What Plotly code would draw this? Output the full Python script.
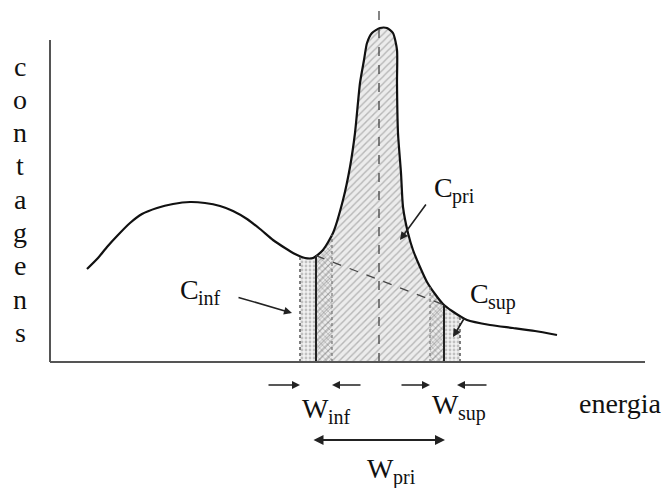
import numpy as np
import plotly.graph_objects as go

# ---- data (x = energy channel, y = counts) ----
energia = [37, 48, 57, 68, 80, 92, 107, 123, 140, 155, 170, 183, 197, 210, 223, 235, 245,
           255, 263, 273, 283, 293, 300, 305, 310, 314, 317, 322, 330, 337, 343, 347, 347,
           348, 351, 353, 358, 363, 370, 377, 385, 393, 402, 417, 440, 463, 485, 507]
contagens = [93, 104, 115, 127, 139, 148, 154, 158, 160, 159, 156, 151, 143, 133, 122, 114, 108,
             104, 104, 112, 129, 162, 195, 229, 279, 302, 319, 329, 334, 334, 329, 312, 279,
             229, 189, 155, 129, 112, 95, 80, 68, 58, 51, 42, 37, 34, 31, 27]

# window limits (energy channels)
inf_lo, inf_hi = 250, 266        # C_inf window (dotted edge, solid edge)
sup_lo, sup_hi = 394, 410        # C_sup window (solid edge, dotted edge)
dense_l, dense_r = 282, 380      # inner dense bands
centroide = 329                  # peak centre
centro_top = 352

xs = np.array(energia, dtype=float)
ys = np.array(contagens, dtype=float)
fine_x = np.linspace(xs.min(), xs.max(), 800)

def seg(a, b):
    m = (fine_x >= a) & (fine_x <= b)
    sx = np.concatenate([[a], fine_x[m], [b]])
    sy = np.interp(sx, xs, ys)
    return sx, sy

fig = go.Figure()

def band(a, b, shape, fg, bg, size, sol):
    sx, sy = seg(a, b)
    fig.add_trace(go.Scatter(x=sx, y=sy, mode="lines", line=dict(width=0, color="rgba(0,0,0,0)"),
                             fill="tozeroy", fillcolor=bg,
                             fillpattern=dict(shape=shape, fgcolor=fg, bgcolor=bg,
                                              size=size, solidity=sol),
                             hoverinfo="skip"))

# shaded regions
band(inf_lo, inf_hi, ".", "#8f8f8f", "#f1f1f1", 4, 0.38)
band(sup_lo, sup_hi, ".", "#8f8f8f", "#f1f1f1", 4, 0.38)
band(inf_hi, sup_lo, "/", "#7f7f7f", "#ececec", 5, 0.28)
band(inf_hi, dense_l, "x", "#6f6f6f", "rgba(0,0,0,0)", 4, 0.32)
band(dense_r, sup_lo, "x", "#6f6f6f", "rgba(0,0,0,0)", 4, 0.32)

# spectrum curve
fig.add_trace(go.Scatter(x=energia, y=contagens, mode="lines",
                         line=dict(color="#111111", width=2.2, shape="spline", smoothing=0.6),
                         hoverinfo="skip"))

def vline(x, dash, width, color, top=None):
    yt = float(np.interp(x, xs, ys)) if top is None else top
    fig.add_trace(go.Scatter(x=[x, x], y=[0, yt], mode="lines",
                             line=dict(color=color, width=width, dash=dash), hoverinfo="skip"))

vline(inf_lo, "dot", 1.5, "#555555")
vline(sup_hi, "dot", 1.5, "#555555")
vline(dense_l, "dot", 1.2, "#777777")
vline(dense_r, "dot", 1.2, "#777777")
vline(inf_hi, "solid", 2, "#222222")
vline(sup_lo, "solid", 2, "#222222")
vline(centroide, "dash", 1.3, "#444444", top=centro_top)

# background baseline
fig.add_trace(go.Scatter(x=[inf_hi, sup_lo],
                         y=[float(np.interp(inf_hi, xs, ys)), float(np.interp(sup_lo, xs, ys))],
                         mode="lines", line=dict(color="#444444", width=1.3, dash="dash"),
                         hoverinfo="skip"))

# axes
x_end, y_top = 595, 322
fig.add_trace(go.Scatter(x=[0, x_end], y=[0, 0], mode="lines",
                         line=dict(color="#555555", width=2), hoverinfo="skip"))
fig.add_trace(go.Scatter(x=[0, 0], y=[0, y_top], mode="lines",
                         line=dict(color="#555555", width=2), hoverinfo="skip"))

SERIF = "Liberation Serif"
FONT = dict(family=SERIF, size=28, color="#111111")
SUBFONT = dict(family=SERIF, size=20, color="#111111")
ann = []

def text(t, x, y, font):
    ann.append(dict(x=x, y=y, xref="x", yref="y", text=t, showarrow=False,
                    xanchor="left", yanchor="middle", font=font))

def label(main, s, x, y):
    w = 18.7 if main == "C" else 26.4
    text(main, x, y, FONT)
    text(s, x + w - 0.5, y - 9, SUBFONT)

def arrow(x, y, ax, ay, width=1.6, side="end"):
    ann.append(dict(x=x, y=y, ax=ax, ay=ay, xref="x", yref="y", axref="x", ayref="y",
                    text="", showarrow=True, arrowhead=2, arrowsize=1, arrowwidth=width,
                    arrowcolor="#222222", arrowside=side))

label("C", "pri", 382, 175)
label("C", "inf", 128, 73)
label("C", "sup", 418, 69)
label("W", "inf", 250, -46)
label("W", "sup", 380, -42)
label("W", "pri", 315, -106)
text("energia", 527, -41, FONT)

for i, ch in enumerate("contagens"):
    ann.append(dict(x=-30, y=296 - 33.3 * i, xref="x", yref="y", text=ch, showarrow=False,
                    xanchor="center", yanchor="middle", font=FONT))

arrow(350, 122, 377, 159)
arrow(242, 49, 187, 65)
arrow(403, 25, 415, 45)

arrow(250, -23, 217, -23)
arrow(282, -23, 312, -23)
arrow(380, -23, 350, -23)
arrow(407, -23, 438, -23)
arrow(395, -78, 262, -78, width=2, side="end+start")

fig.update_layout(
    width=663, height=488,
    margin=dict(l=0, r=0, t=0, b=0),
    paper_bgcolor="white", plot_bgcolor="white",
    showlegend=False,
    font=dict(family=SERIF),
    xaxis=dict(range=[-50, 613], visible=False, fixedrange=True),
    yaxis=dict(range=[-126, 362], visible=False, fixedrange=True),
    annotations=ann,
)

fig.write_html("out.html")
